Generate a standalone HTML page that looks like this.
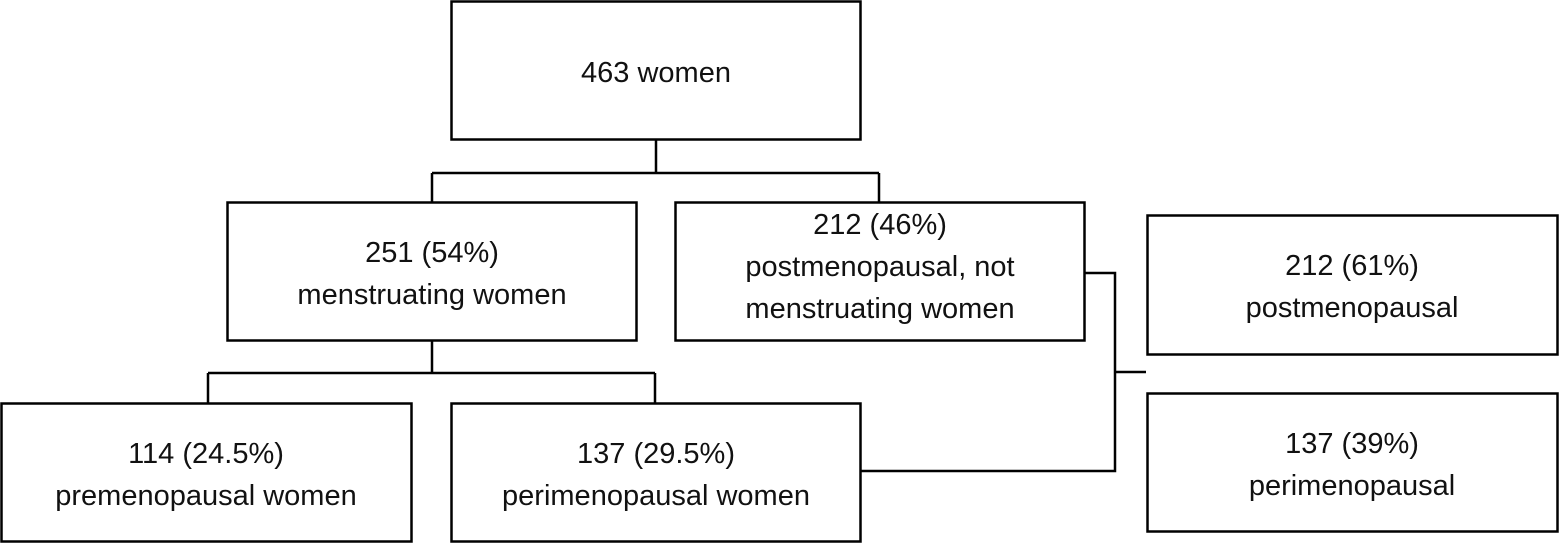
<!DOCTYPE html>
<html><head><meta charset="utf-8"><style>
html,body{margin:0;padding:0;background:#fff;}
svg{display:block;}
text{font-family:"Liberation Sans","DejaVu Sans",sans-serif;font-size:29px;fill:#111;text-anchor:middle;}
</style></head><body>
<svg width="1560" height="544" viewBox="0 0 1560 544">
<g fill="none" stroke="#000" stroke-width="2.5">
<rect x="451.5" y="1.5" width="409" height="138"/>
<rect x="227.5" y="202.5" width="409" height="138"/>
<rect x="675.5" y="202.5" width="409" height="138"/>
<rect x="1147.5" y="215.5" width="410" height="139"/>
<rect x="1.5" y="403.5" width="410" height="138"/>
<rect x="451.5" y="403.5" width="409" height="138"/>
<rect x="1147.5" y="393.5" width="410" height="138"/>
<path d="M656 140V173M432 173H879M432 173V202M879 173V202"/>
<path d="M432 341V373M208 373H655M208 373V403M655 373V403"/>
<path d="M1085 273H1115V471H861M1115 372H1146"/>
</g>
<text x="656" y="82">463 women</text>
<text x="432" y="262">251 (54%)</text>
<text x="432" y="304">menstruating women</text>
<text x="880" y="234">212 (46%)</text>
<text x="880" y="276">postmenopausal, not</text>
<text x="880" y="318">menstruating women</text>
<text x="1352" y="275">212 (61%)</text>
<text x="1352" y="317">postmenopausal</text>
<text x="206" y="463">114 (24.5%)</text>
<text x="206" y="505">premenopausal women</text>
<text x="656" y="463">137 (29.5%)</text>
<text x="656" y="505">perimenopausal women</text>
<text x="1352" y="453">137 (39%)</text>
<text x="1352" y="495">perimenopausal</text>
</svg>
</body></html>
